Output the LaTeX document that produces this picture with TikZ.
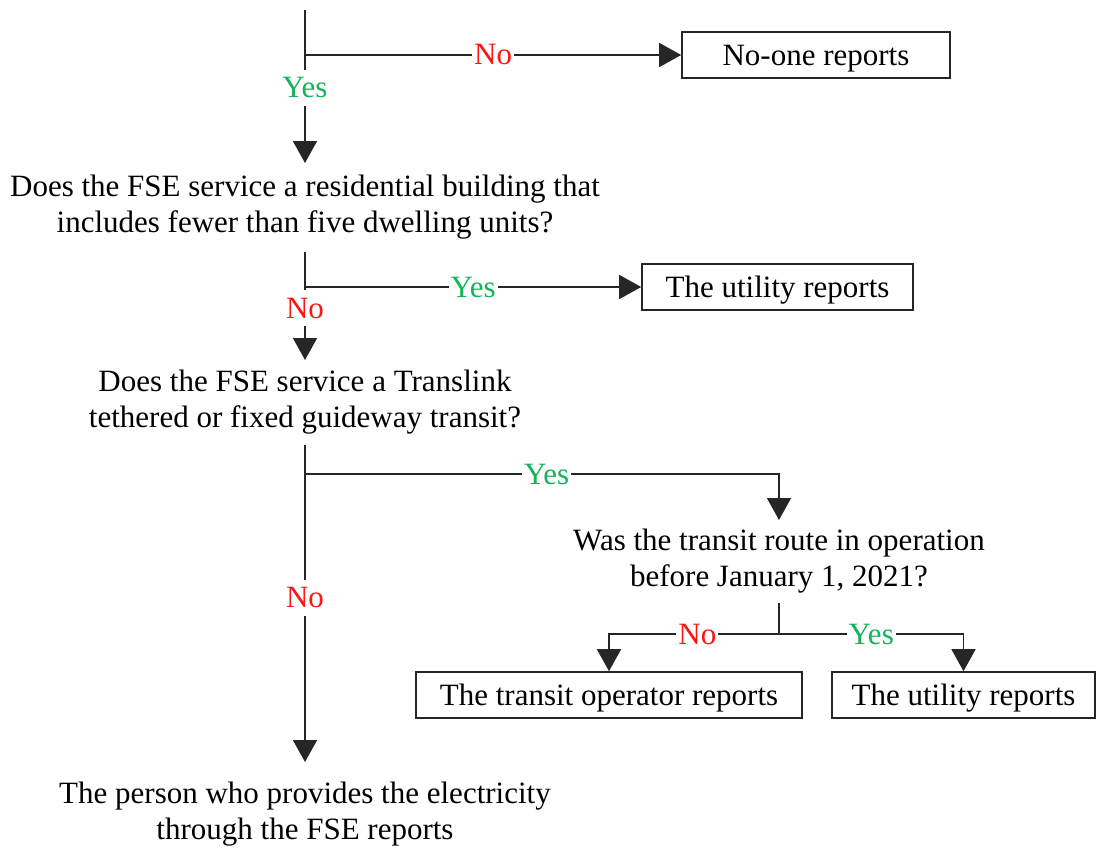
\documentclass[tikz,border=0pt]{standalone}
\usepackage{fontspec}
\setmainfont{Liberation Serif}
\usetikzlibrary{arrows.meta}
\definecolor{nored}{RGB}{255,20,20}
\definecolor{yesgreen}{RGB}{20,180,90}
\tikzset{
  line/.style={line width=1.6pt, draw=black!85},
  arr/.style={line, -{Triangle[width=24pt,length=22pt]}},
  box/.style={draw=black!85, line width=1.6pt, minimum height=46pt, inner sep=0pt, text height=21pt, text depth=0pt, font=\fontsize{31}{36}\selectfont},
  qtext/.style={align=center, inner xsep=0pt, font=\fontsize{31}{36}\selectfont},
  lab/.style={fill=white, inner xsep=2pt, inner ysep=8pt, font=\fontsize{31}{36}\selectfont},
  nolab/.style={lab, text=nored},
  yeslab/.style={lab, text=yesgreen},
}
\begin{document}
\begin{tikzpicture}[x=1pt,y=-1pt]
\useasboundingbox (0,0) rectangle (1097,848);
% coordinates
\coordinate (start) at (305,10);
\coordinate (j1) at (305,55);
\coordinate (j2) at (305,287);
\coordinate (j3) at (305,474);
\coordinate (c3) at (779,474);
\coordinate (j4) at (779,634);
% boxes
\node[box, minimum width=268pt] (b1) at (816,55) {No-one reports};
\node[box, minimum width=271pt] (b2) at (777.5,287) {The utility reports};
\node[box, minimum width=386pt] (b3) at (609,695) {The transit operator reports};
\node[box, minimum width=263pt] (b4) at (963.5,695) {The utility reports};
% questions
\node[qtext, anchor=north, inner ysep=12pt] (q1) at (305,163) {Does the FSE service a residential building that\\includes fewer than five dwelling units?};
\node[qtext, anchor=north, inner ysep=10pt] (q2) at (305,360) {Does the FSE service a Translink\\tethered or fixed guideway transit?};
\node[qtext, anchor=north, inner ysep=9pt] (q3) at (779,520) {Was the transit route in operation\\before January 1, 2021?};
\node[qtext, anchor=north, inner ysep=20pt] (fin) at (305,762) {The person who provides the electricity\\through the FSE reports};
% connectors
\draw[line] (start) -- (j1);
\draw[arr] (j1) -- node[nolab]{No} (b1.west);
\draw[arr] (j1) -- node[yeslab, pos=0.305]{Yes} (q1.north);
\draw[line] (q1.south) -- (j2);
\draw[arr] (j2) -- node[yeslab]{Yes} (b2.west);
\draw[arr] (j2) -- node[nolab, pos=0.29]{No} (q2.north);
\draw[line] (q2.south) -- (j3);
\draw[arr] (j3) -- node[yeslab, pos=0.51]{Yes} (c3) -- (q3.north);
\draw[arr] (j3) -- node[nolab, pos=0.43]{No} (fin.north);
\draw[line] (q3.south) -- (j4);
\draw[arr] (j4) -| node[nolab, pos=0.24]{No} (b3.north);
\draw[arr] (j4) -| node[yeslab, pos=0.25]{Yes} (b4.north);
\end{tikzpicture}
\end{document}
